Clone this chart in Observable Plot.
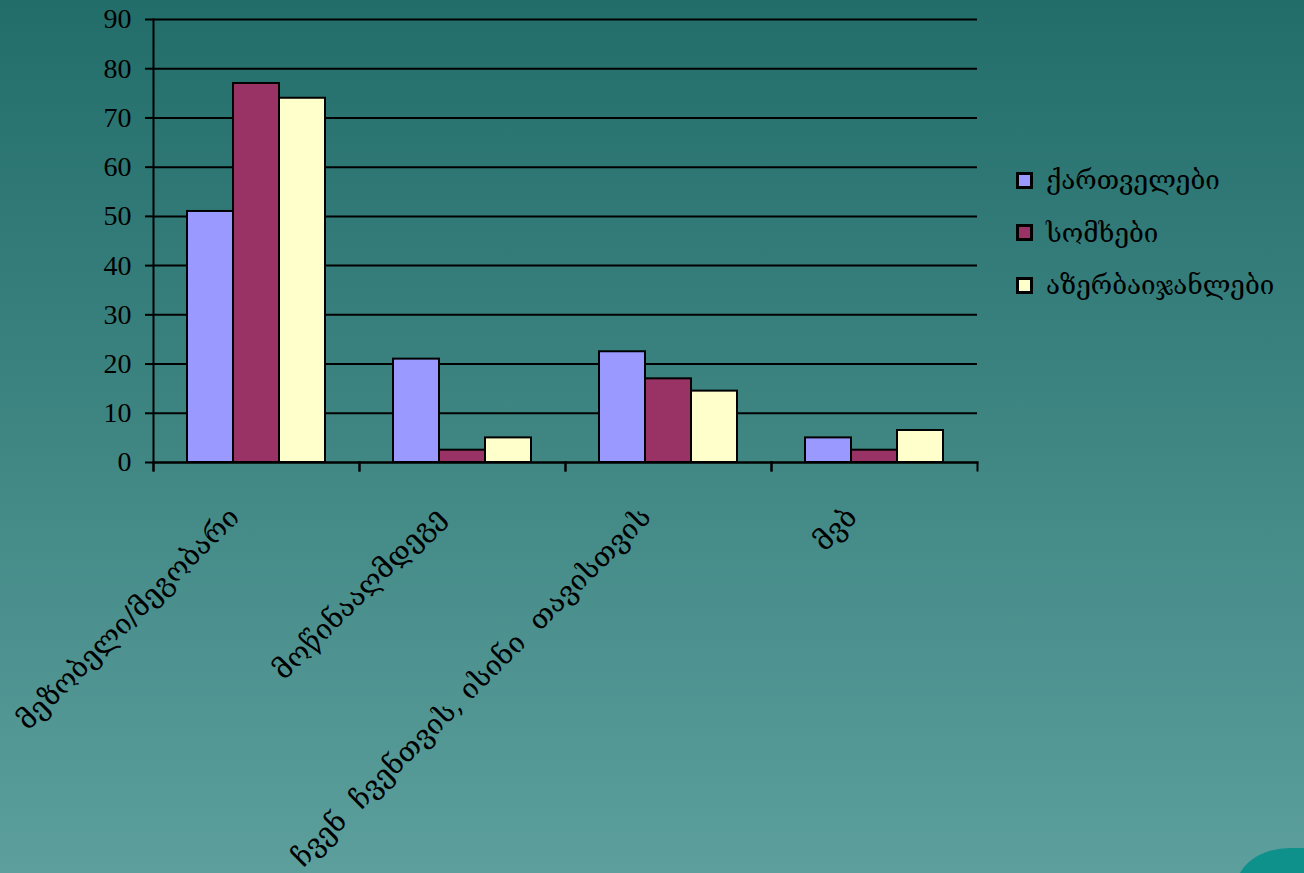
<!DOCTYPE html>
<html>
<head>
<meta charset="utf-8">
<script src="https://cdn.jsdelivr.net/npm/d3@7"></script>
<script src="https://cdn.jsdelivr.net/npm/@observablehq/plot@0.6"></script>
<style>
  html, body { margin: 0; padding: 0; }
  body {
    width: 1304px; height: 873px; overflow: hidden; position: relative;
    background: linear-gradient(to bottom, #226d6a 0%, #3f8683 50%, #5c9f9d 100%);
    font-family: "Liberation Serif", "DejaVu Serif", serif;
  }
  #chart { position: absolute; left: 0; top: 0; }
  #chart text { white-space: pre; }
  #legend { position: absolute; left: 1016px; top: 154px; }
  .row { display: flex; align-items: center; height: 52.5px; }
  .sw { width: 11px; height: 11px; border: 3px solid #000; margin-right: 13px; }
  .lab { font-family: "DejaVu Serif", serif; font-size: 26px; color: #000; white-space: nowrap; }
  #deco { position: absolute; left: 1236px; top: 848px; width: 90px; height: 40px;
    background: #0e918b; border-top-left-radius: 60% 100%; border-top-right-radius: 10% 30%; }
</style>
</head>
<body>
<div id="chart"></div>
<div id="legend"></div>
<div id="deco"></div>
<script>
const categories = ["მეზობელი/მეგობარი", "მოწინააღმდეგე", "ჩვენ  ჩვენთვის, ისინი  თავისთვის", "მვბ"];
const series = ["ქართველები", "სომხები", "აზერბაიჯანლები"];
const georgians = [51, 21, 22.5, 5];
const armenians = [77, 2.5, 17, 2.5];
const azerbaijanis = [74, 5, 14.5, 6.5];
const colors = ["#9999ff", "#993366", "#ffffcc"];
const yTicks = [0, 10, 20, 30, 40, 50, 60, 70, 80, 90];

const seriesValues = [georgians, armenians, azerbaijanis];
const data = categories.flatMap((c, i) =>
  series.map((s, j) => ({category: c, series: s, value: seriesValues[j][i]})));

const chart = Plot.plot({
  width: 1304, height: 873,
  marginLeft: 153, marginRight: 327, marginTop: 19, marginBottom: 411,
  style: {background: "transparent", fontFamily: "'Liberation Serif','DejaVu Serif',serif", fontSize: "28px", color: "#000", overflow: "visible"},
  fx: {domain: categories, padding: 0, label: null, axis: null},
  x: {domain: series, paddingOuter: 0.707, paddingInner: 0, axis: null},
  y: {domain: [0, 90], axis: null},
  color: {domain: series, range: colors},
  marks: [
    Plot.gridY(yTicks, {stroke: "#000", strokeOpacity: 1, strokeWidth: 2}),
    Plot.barY(data, {fx: "category", x: "series", y: "value", fill: "series", stroke: "#000", strokeWidth: 2}),
    Plot.frame({anchor: "left", facet: "super", insetBottom: -8, stroke: "#000", strokeWidth: 2}),
    Plot.frame({anchor: "bottom", facet: "super", stroke: "#000", strokeWidth: 2}),
    Plot.frame({anchor: "left", insetTop: 443, insetBottom: -8, stroke: "#000", strokeWidth: 2}),
    Plot.frame({anchor: "right", insetTop: 443, insetBottom: -8, stroke: "#000", strokeWidth: 2}),
    Plot.axisY(yTicks, {tickSize: 8, tickPadding: 14, strokeWidth: 2, label: null, fontSize: 28, fill: "#000", stroke: "#000"}),
    Plot.axisFx({anchor: "bottom", tickRotate: -45, tickSize: 0, tickPadding: 50, dx: -22, label: null, fontSize: 28,
      fontFamily: "'DejaVu Serif',serif", fill: "#000"})
  ]
});
document.getElementById("chart").appendChild(chart);

const legend = document.getElementById("legend");
series.forEach((s, i) => {
  const row = document.createElement("div");
  row.className = "row";
  const sw = document.createElement("div");
  sw.className = "sw";
  sw.style.background = colors[i];
  const lab = document.createElement("span");
  lab.className = "lab";
  lab.textContent = s;
  row.appendChild(sw);
  row.appendChild(lab);
  legend.appendChild(row);
});
</script>
</body>
</html>
